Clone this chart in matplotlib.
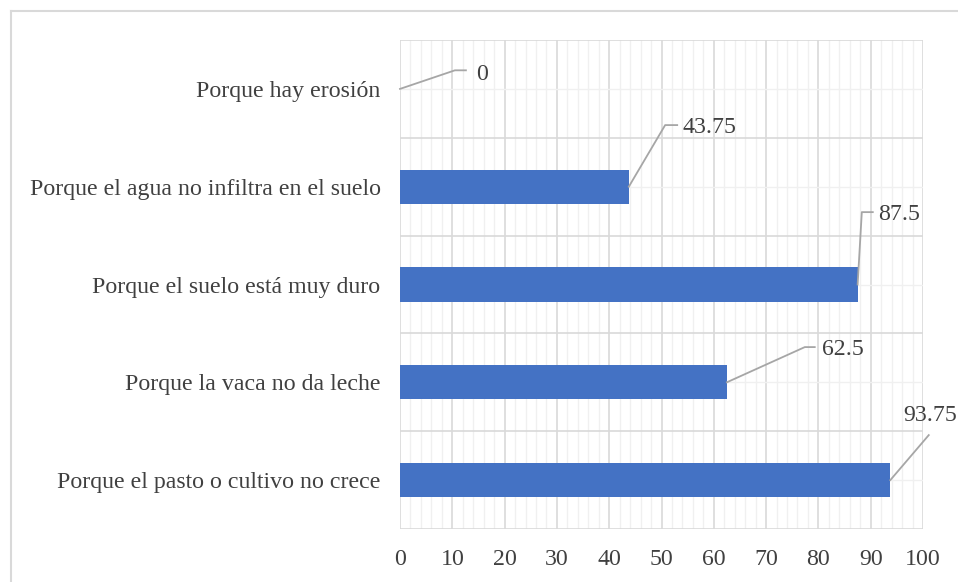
import matplotlib
matplotlib.use("Agg")
import matplotlib.pyplot as plt
from matplotlib.lines import Line2D
from matplotlib.ticker import MultipleLocator

categories = ["Porque el pasto o cultivo no crece",
              "Porque la vaca no da leche",
              "Porque el suelo está muy duro",
              "Porque el agua no infiltra en el suelo",
              "Porque hay erosión"]
values = [93.75, 62.5, 87.5, 43.75, 0]
labels = ["93.75", "62.5", "87.5", "43.75", "0"]

plt.rcParams['font.family'] = ['Liberation Serif', 'DejaVu Serif']
W, H = 958, 582
fig = plt.figure(figsize=(W/100, H/100), dpi=100)
ax = fig.add_axes([400/W, 1-529/H, 523/W, 489/H])

txt = '#404040'
fs = 17.2
ypos = list(range(len(categories)))
ax.barh(ypos, values, height=0.35, color='#4472C4', zorder=3)
ax.set_xlim(0, 100)
ax.set_ylim(-0.5, len(categories)-0.5)
ax.xaxis.set_major_locator(MultipleLocator(10))
ax.xaxis.set_minor_locator(MultipleLocator(2))
ax.set_yticks(ypos)
ax.set_yticklabels(categories)
ax.set_yticks([i+0.5 for i in range(-1, len(categories))], minor=True)
ax.grid(which='major', axis='x', color='#d9d9d9', lw=1.2, zorder=0)
ax.grid(which='minor', axis='x', color='#f0f0f0', lw=1.0, zorder=0)
# horizontal: major lines at boundaries (minor ticks), light at centers
ax.grid(which='minor', axis='y', color='#d9d9d9', lw=1.2, zorder=0)
ax.grid(which='major', axis='y', color='#f0f0f0', lw=1.0, zorder=0)
for s in ax.spines.values():
    s.set_visible(False)
ax.tick_params(which='both', length=0)
ax.tick_params(axis='x', labelsize=fs, colors=txt, pad=14.5)
ax.tick_params(axis='y', labelsize=fs, colors=txt, pad=14)

# leader lines: (elbow x, elbow y, end x), text position and alignment
leaders = {
    0: dict(pts=[(101.1, 0.46)], text=(101.3, 0.66), ha='center'),
    1: dict(pts=[(77.4, 1.36), (79.3, 1.36)], text=(80.7, 1.34), ha='left'),
    2: dict(pts=[(88.3, 2.74), (90.4, 2.74)], text=(91.4, 2.72), ha='left'),
    3: dict(pts=[(50.7, 3.63), (53.0, 3.63)], text=(54.1, 3.61), ha='left'),
    4: dict(pts=[(10.5, 4.19), (12.6, 4.19)], text=(14.5, 4.15), ha='left'),
}
for i, v in enumerate(values):
    d = leaders[i]
    xs = [v] + [p[0] for p in d['pts']]
    ys = [i] + [p[1] for p in d['pts']]
    ax.plot(xs, ys, color='#a6a6a6', lw=1.3, zorder=4, clip_on=False)
    ax.text(d['text'][0], d['text'][1], labels[i], ha=d['ha'], va='center',
            fontsize=fs, color=txt, zorder=5, clip_on=False)

# outer chart border (left and top visible)
fig.add_artist(Line2D([10.5/W, 10.5/W], [0, 1-10.5/H], transform=fig.transFigure,
                      color='#d9d9d9', lw=1.5))
fig.add_artist(Line2D([10.5/W, 1], [1-10.5/H, 1-10.5/H], transform=fig.transFigure,
                      color='#d9d9d9', lw=1.5))

fig.savefig("out.png", dpi=100)
